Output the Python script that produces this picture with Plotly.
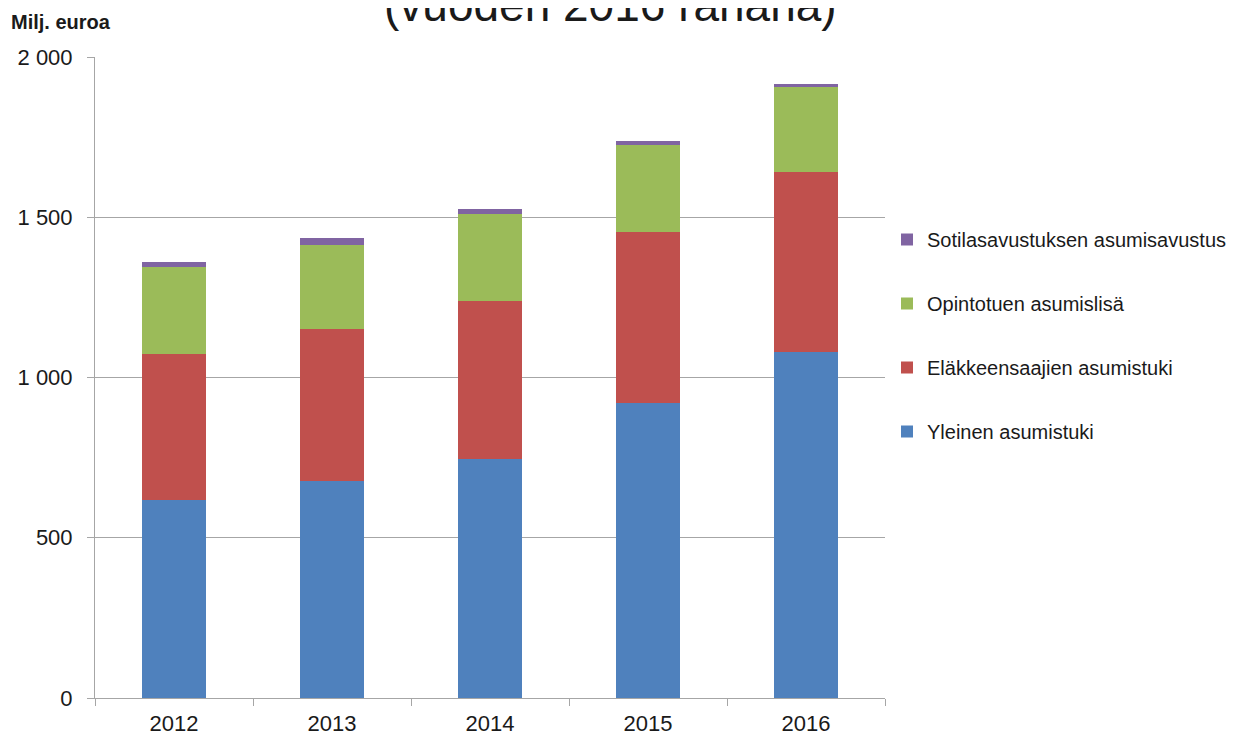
import plotly.graph_objects as go

years = ["2012", "2013", "2014", "2015", "2016"]
yleinen = [618, 678, 745, 920, 1080]
elakkeensaajien = [455, 472, 494, 535, 560]
opintotuen = [272, 263, 271, 271, 265]
sotilas = [16, 21, 16, 12, 12]

series_names = ["Yleinen asumistuki", "Eläkkeensaajien asumistuki",
                "Opintotuen asumislisä", "Sotilasavustuksen asumisavustus"]
series_values = [yleinen, elakkeensaajien, opintotuen, sotilas]
colors = ["#4F81BD", "#C0504D", "#9BBB59", "#8064A2"]
legend_ranks = [4, 3, 2, 1]

y_tickvals = [0, 500, 1000, 1500, 2000]
y_ticktext = ["0", "500", "1 000", "1 500", "2 000"]

title_text = "(vuoden 2016 rahana)"
unit_text = "Milj. euroa"

FONT = "Liberation Sans, Arial, sans-serif"

fig = go.Figure()
for name, vals, col, rk in zip(series_names, series_values, colors, legend_ranks):
    fig.add_trace(go.Bar(x=years, y=vals, name=name, marker_color=col,
                         marker_line_width=0, legendgroup=name, legendrank=rk))

# page has an 8px body margin; work in figure coordinates
W, H = 1236, 729
L, R, T, B = 87, 359, 49, 39
pw, ph = W - L - R, H - T - B

fig.update_layout(
    width=W, height=H,
    barmode="stack", bargap=0.6,
    plot_bgcolor="white", paper_bgcolor="white",
    margin=dict(l=L, r=R, t=T, b=B, pad=0, autoexpand=False),
    font=dict(family=FONT, color="#1a1a1a"),
    legend=dict(x=(879 - L) / pw, xanchor="left", y=1 - (212 - T) / ph, yanchor="top",
                font=dict(size=20, family=FONT, color="#1a1a1a"),
                traceorder="grouped", tracegroupgap=35,
                bgcolor="rgba(0,0,0,0)"),
    xaxis=dict(showgrid=False, showline=True, linecolor="#A6A6A6", linewidth=1,
               ticks="outside", tickson="boundaries", ticklen=7, tickcolor="#A6A6A6",
               tickfont=dict(size=22, family=FONT, color="#1a1a1a"),
               ticklabelstandoff=6, automargin=False),
    yaxis=dict(range=[0, 2000], tickvals=y_tickvals, ticktext=y_ticktext,
               showgrid=True, gridcolor="#A6A6A6", gridwidth=1,
               showline=True, linecolor="#A6A6A6", linewidth=1,
               ticks="outside", ticklen=7, tickcolor="#A6A6A6",
               tickfont=dict(size=22, family=FONT, color="#1a1a1a"),
               ticklabelstandoff=10, zeroline=False, automargin=False),
    annotations=[
        dict(text=title_text, xref="paper", yref="paper",
             x=(602 - L) / pw, y=1 + (T - 25) / ph, xanchor="center", yanchor="bottom",
             showarrow=False, font=dict(size=46, family=FONT, color="#1a1a1a")),
        dict(text="<b>" + unit_text + "</b>", xref="paper", yref="paper",
             x=(1 - L) / pw, y=1 + (T - 14) / ph, xanchor="left", yanchor="middle",
             showarrow=False, font=dict(size=20, family=FONT, color="#1a1a1a")),
    ],
)

fig.write_html("out.html")
